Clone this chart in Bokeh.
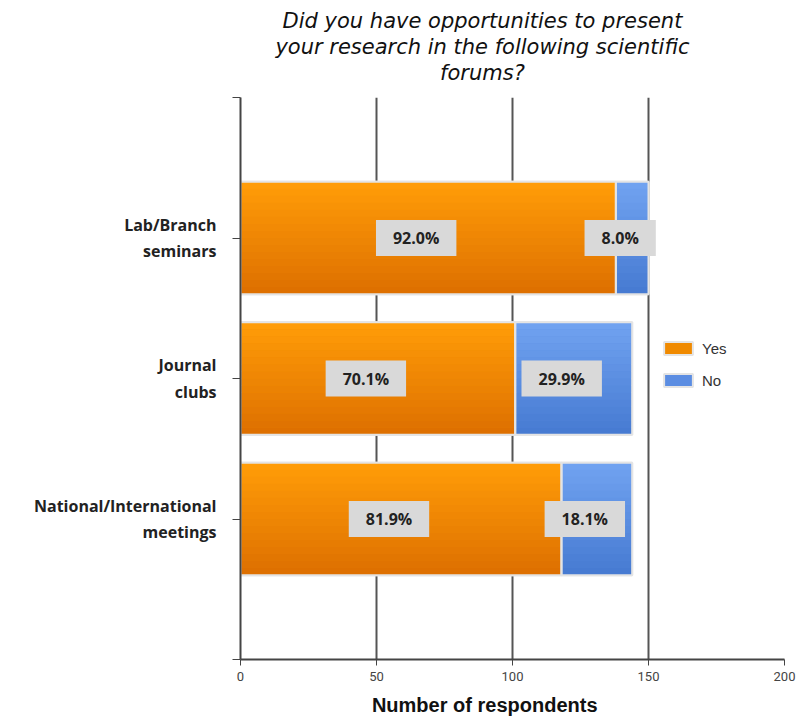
from bokeh.plotting import figure
from bokeh.models import Range1d, FixedTicker, ColumnDataSource, Title
from bokeh.transform import dodge
from bokeh.core.properties import value
from bokeh.embed import file_html
from bokeh.resources import INLINE

# ---- data ----
categories = ["Lab/Branch\nseminars", "Journal\nclubs", "National/International\nmeetings"]
yes_counts = [138, 101, 118]
no_counts = [12, 43, 26]
x_ticks = [0, 50, 100, 150, 200]
title_lines = ["Did you have opportunities to present",
               "your research in the following scientific",
               "forums?"]
x_title = "Number of respondents"

n = len(categories)
y_pos = [n - i for i in range(n)]
totals = [a + b for a, b in zip(yes_counts, no_counts)]
src = ColumnDataSource(dict(
    y=y_pos,
    yes=yes_counts,
    no=no_counts,
    total=totals,
    yes_mid=[a / 2 for a in yes_counts],
    no_mid=[a + b / 2 for a, b in zip(yes_counts, no_counts)],
    yes_lbl=["%.1f%%" % (100 * a / t) for a, t in zip(yes_counts, totals)],
    no_lbl=["%.1f%%" % (100 * b / t) for b, t in zip(no_counts, totals)],
))

p = figure(width=796, height=718, x_range=Range1d(0, 200), y_range=Range1d(0, n + 1),
           output_backend="svg", toolbar_location=None,
           min_border_left=240, min_border_right=12, min_border_top=97, min_border_bottom=59)
p.outline_line_color = None
p.title = None

BAR_H = 0.8
# base bars (solid, used for the legend)
base = p.hbar_stack(["yes", "no"], y="y", height=BAR_H, source=src,
                    fill_color=["#F08A00", "#5B8DE2"], line_color="#E4E4E4", line_width=2,
                    legend_label=["Yes", "No"])

# vertical gradient emulation (styling slices of each bar)
def lerp(c1, c2, t):
    a = [int(c1[i:i + 2], 16) for i in (1, 3, 5)]
    b = [int(c2[i:i + 2], 16) for i in (1, 3, 5)]
    return "#%02x%02x%02x" % tuple(round(x + (y - x) * t) for x, y in zip(a, b))

NS = 16
sh = BAR_H / NS
for k in range(NS):
    t = k / (NS - 1)
    off = BAR_H / 2 - (k + 0.5) * sh
    yy = dodge("y", off, range=p.y_range)
    p.hbar(y=yy, height=sh * 1.02, left=0, right="yes", source=src,
           fill_color=lerp("#FF9C08", "#DE7000", t), line_color=None)
    p.hbar(y=yy, height=sh * 1.02, left="yes", right="total", source=src,
           fill_color=lerp("#70A2F0", "#477BD2", t), line_color=None)

# outlines on top
p.hbar(y="y", height=BAR_H, left=0, right="yes", source=src, fill_color=None,
       line_color="#E4E4E4", line_width=2)
p.hbar(y="y", height=BAR_H, left="yes", right="total", source=src, fill_color=None,
       line_color="#E4E4E4", line_width=2)

# grid
p.ygrid.grid_line_color = None
p.xgrid.ticker = FixedTicker(ticks=x_ticks)
p.xgrid.grid_line_color = "#555555"
p.xgrid.grid_line_width = 2

# x axis
p.xaxis.ticker = FixedTicker(ticks=x_ticks)
p.xaxis.axis_line_color = "#444444"
p.xaxis.axis_line_width = 2
p.xaxis.major_tick_line_color = "#444444"
p.xaxis.major_tick_out = 6
p.xaxis.major_tick_in = 0
p.xaxis.minor_tick_line_color = None
p.xaxis.major_label_text_font = "Roboto"
p.xaxis.major_label_text_font_size = "13px"
p.xaxis.major_label_text_color = "#444444"
p.xaxis.major_label_standoff = 6
p.xaxis.axis_label = x_title + "\u00a0" * 10
p.xaxis.axis_label_text_font = "Liberation Sans"
p.xaxis.axis_label_text_font_style = "bold"
p.xaxis.axis_label_text_font_size = "20px"
p.xaxis.axis_label_text_color = "#111111"
p.xaxis.axis_label_standoff = 10

# y axis
p.yaxis.ticker = FixedTicker(ticks=list(range(0, n + 2)))
overrides = {0: "", n + 1: ""}
for yv, c in zip(y_pos, categories):
    overrides[yv] = c
p.yaxis.major_label_overrides = overrides
p.yaxis.axis_line_color = "#444444"
p.yaxis.axis_line_width = 2
p.yaxis.major_tick_line_color = "#444444"
p.yaxis.major_tick_out = 8
p.yaxis.major_tick_in = 0
p.yaxis.minor_tick_line_color = None
p.yaxis.major_label_text_font = "Open Sans"
p.yaxis.major_label_text_font_style = "bold"
p.yaxis.major_label_text_font_size = "16px"
p.yaxis.major_label_text_color = "#222222"
p.yaxis.major_label_standoff = 16

# value labels
for xcol, tcol in (("yes_mid", "yes_lbl"), ("no_mid", "no_lbl")):
    p.text(x=xcol, y="y", text=tcol, source=src, x_offset=-12,
           text_align="center", text_baseline="middle",
           text_font=value("Open Sans"), text_font_style="bold", text_font_size="16px",
           text_color="#222222", background_fill_color="#D9D9D9",
           padding=dict(left=17, right=17, top=7, bottom=7))

# legend
lg = p.legend[0]
lg.location = (420, 269)
lg.margin = 0
lg.padding = 0
lg.spacing = 12
lg.glyph_width = 36
lg.glyph_height = 16
lg.label_height = 20
lg.label_standoff = 6
lg.label_text_font = "Liberation Sans"
lg.label_text_font_size = "15px"
lg.label_text_color = "#333333"
lg.background_fill_alpha = 0
lg.border_line_color = None

# spacer between frame and title
p.add_layout(Title(text="\u00a0", text_font_size="6px", standoff=5), "above")
# title lines (each centred; shifted left of the frame centre with no-break spaces)
pad_t = "\u00a0" * 9
for line in reversed(title_lines):
    p.add_layout(Title(text=line + pad_t, align="center", text_font="DejaVu Sans",
                       text_font_style="italic", text_font_size="21px",
                       text_color="#111111", standoff=0), "above")

open("out.html", "w").write(file_html(p, INLINE))
